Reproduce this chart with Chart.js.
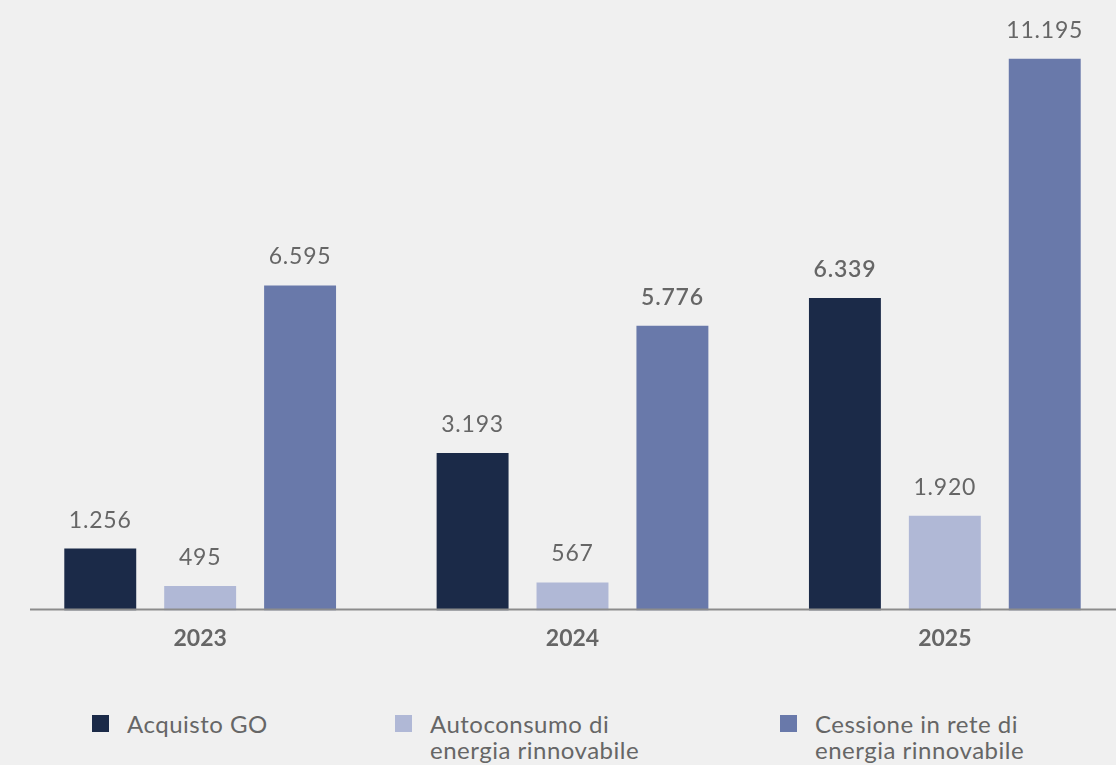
<!DOCTYPE html>
<html>
<head>
<meta charset="utf-8">
<script src="https://cdn.jsdelivr.net/npm/chart.js@4.4.1/dist/chart.umd.min.js"></script>
<style>
  body { margin: 0; background: #f0f0f0; overflow: hidden; width: 1116px; height: 765px; position: relative; font-family: Lato, sans-serif; }
  #wrap { position: absolute; left: 0; top: 0; width: 1131px; height: 675px; }
  .legend-item { position: absolute; top: 711px; color: #666; font-size: 24px; line-height: 26px; letter-spacing: 0.5px; }
  .legend-item .box { position: absolute; left: 0; top: 4px; width: 17px; height: 17px; }
  .legend-item .txt { margin-left: 35px; white-space: pre-line; }
</style>
</head>
<body>
<div id="wrap"><canvas id="MyChart"></canvas></div>
<div id="legend"></div>
<script>
// values
const years = ['2023', '2024', '2025'];
const acquistoGO = [1256, 3193, 6339];
const autoconsumo = [495, 567, 1920];
const cessione = [6595, 5776, 11195];
const seriesNames = ['Acquisto GO', 'Autoconsumo di\nenergia rinnovabile', 'Cessione in rete di\nenergia rinnovabile'];

const colors = ['#1b2a48', '#b0b8d6', '#6979aa'];
const legendLeft = [92, 395, 780];
// labels drawn semi-bold in the original ("dataset-index")
const boldLabels = ['0-2', '2-1'];

function fmt(v) {
  return String(v).replace(/\B(?=(\d{3})+(?!\d))/g, '.');
}

const valueLabels = {
  id: 'valueLabels',
  afterDatasetsDraw(chart) {
    const ctx = chart.ctx;
    ctx.save();
    ctx.fillStyle = '#666';
    ctx.textAlign = 'center';
    ctx.textBaseline = 'alphabetic';
    ctx.letterSpacing = '0.8px';
    chart.data.datasets.forEach((ds, i) => {
      chart.getDatasetMeta(i).data.forEach((bar, j) => {
        const bold = boldLabels.includes(i + '-' + j);
        ctx.font = (bold ? '600 ' : '400 ') + '23px Lato';
        ctx.fillText(fmt(ds.data[j]), bar.x, bar.y - 21);
      });
    });
    ctx.restore();
  }
};

const axisLine = {
  id: 'axisLine',
  afterDatasetsDraw(chart) {
    const ctx = chart.ctx;
    const y = chart.chartArea.bottom - 1;
    ctx.save();
    ctx.strokeStyle = '#8c8c8c';
    ctx.lineWidth = 2;
    ctx.beginPath();
    ctx.moveTo(chart.chartArea.left + 16, y);
    ctx.lineTo(chart.chartArea.right, y);
    ctx.stroke();
    ctx.restore();
  }
};

const datasets = [acquistoGO, autoconsumo, cessione].map((d, i) => ({
  label: seriesNames[i],
  data: d,
  backgroundColor: colors[i],
  barPercentage: 0.72,
  categoryPercentage: 0.805
}));

new Chart(document.getElementById('MyChart').getContext('2d'), {
  type: 'bar',
  data: { labels: years, datasets: datasets },
  options: {
    responsive: true,
    maintainAspectRatio: false,
    animation: false,
    layout: { padding: { left: 14, right: 0, top: 19, bottom: 9 } },
    plugins: { legend: { display: false }, tooltip: { enabled: false } },
    scales: {
      x: {
        grid: { display: false, drawTicks: false },
        border: { display: false },
        ticks: { color: '#666', font: { family: 'Lato', size: 23, weight: 'bold' }, padding: 14 }
      },
      y: { display: false, min: 0, max: 12000 }
    }
  },
  plugins: [valueLabels, axisLine]
});

document.getElementById('legend').innerHTML = seriesNames.map((name, i) =>
  `<div class="legend-item" style="left:${legendLeft[i]}px"><span class="box" style="background:${colors[i]}"></span><div class="txt">${name}</div></div>`
).join('');
</script>
</body>
</html>
